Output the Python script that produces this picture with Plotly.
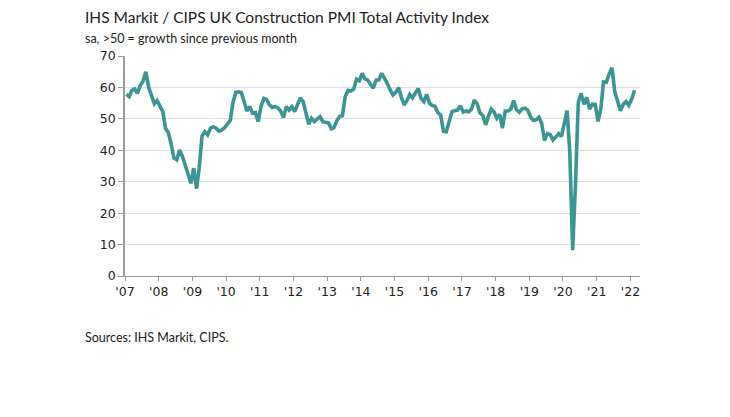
import pandas as pd
import plotly.graph_objects as go

# monthly index, Jan 2007 - Feb 2022 (plotted mid-month)
dates = pd.date_range("2007-01-01", "2022-02-01", freq="MS") + pd.Timedelta(days=14)

pmi_2007 = [57.8, 57.1, 59.0, 59.5, 58.1, 60.6, 62.0, 65.0, 60.0, 57.6, 54.8, 55.8]
pmi_2008 = [54.0, 52.3, 47.0, 45.6, 42.0, 37.5, 37.0, 40.1, 38.0, 35.0, 32.5, 29.5]
pmi_2009 = [34.3, 27.8, 34.3, 44.5, 45.9, 44.9, 47.0, 47.5, 47.0, 46.1, 46.5, 47.2]
pmi_2010 = [48.3, 49.5, 55.0, 58.4, 58.6, 58.4, 55.5, 52.5, 53.9, 51.8, 52.0, 49.1]
pmi_2011 = [54.0, 56.5, 56.2, 54.5, 53.6, 53.9, 53.5, 52.5, 50.4, 53.9, 52.8, 53.9]
pmi_2012 = [52.3, 54.5, 56.7, 55.5, 51.8, 48.3, 50.2, 49.1, 50.0, 50.7, 49.1, 49.0]
pmi_2013 = [48.7, 46.8, 47.2, 49.4, 50.8, 51.0, 57.0, 59.1, 58.9, 59.4, 62.6, 62.1]
pmi_2014 = [64.5, 62.7, 62.4, 61.0, 59.8, 62.3, 62.4, 64.5, 63.0, 61.2, 59.2, 57.6]
pmi_2015 = [58.5, 59.9, 57.0, 54.4, 55.8, 57.8, 56.7, 58.0, 59.7, 56.5, 55.5, 57.8]
pmi_2016 = [55.0, 54.2, 54.0, 52.0, 51.2, 46.0, 45.9, 49.2, 52.3, 52.6, 52.8, 54.2]
pmi_2017 = [52.2, 52.5, 52.2, 53.1, 56.0, 54.8, 51.9, 51.1, 48.1, 50.8, 53.1, 52.2]
pmi_2018 = [50.2, 51.4, 47.0, 52.5, 52.5, 53.1, 55.8, 52.9, 52.1, 53.2, 53.4, 52.8]
pmi_2019 = [50.6, 49.5, 49.7, 50.5, 48.6, 43.1, 45.3, 45.0, 43.3, 44.2, 45.3, 44.4]
pmi_2020 = [48.4, 52.6, 39.3, 8.2, 28.9, 55.3, 58.1, 54.6, 56.8, 53.1, 54.7, 54.6]
pmi_2021 = [49.2, 53.3, 61.7, 61.6, 64.2, 66.3, 58.7, 55.2, 52.6, 54.6, 55.5, 54.3]
pmi_2022 = [56.3, 59.1]

pmi = (pmi_2007 + pmi_2008 + pmi_2009 + pmi_2010 + pmi_2011 + pmi_2012 + pmi_2013
       + pmi_2014 + pmi_2015 + pmi_2016 + pmi_2017 + pmi_2018 + pmi_2019
       + pmi_2020 + pmi_2021 + pmi_2022)

years = list(range(2007, 2023))
year_ticks = [f"{y}-01-01" for y in years]
year_labels = [f"'{str(y)[2:]}" for y in years]

TEAL = "#3d9494"
AXIS = "#9a9a9a"
GRID = "#dedede"

fig = go.Figure(go.Scatter(
    x=dates, y=pmi, mode="lines",
    line=dict(color=TEAL, width=3.6),
    hoverinfo="x+y",
))

# page has an 8px body margin, so the plot box is shifted by that much
fig.update_layout(
    width=730, height=417,
    margin=dict(l=117, r=98, t=48, b=149),
    paper_bgcolor="white", plot_bgcolor="white",
    showlegend=False,
    font=dict(family="DejaVu Sans", size=12, color="#222"),
)

fig.update_xaxes(
    range=["2007-01-01", "2022-04-15"],
    tickvals=year_ticks, ticktext=year_labels,
    showline=True, linecolor=AXIS, linewidth=1,
    ticks="outside", ticklen=4, tickcolor=AXIS,
    showgrid=False, zeroline=False,
    tickfont=dict(family="DejaVu Sans", size=12.5, color="#222"),
)
fig.update_yaxes(
    range=[0, 70], dtick=10,
    showline=True, linecolor=AXIS, linewidth=1.5,
    ticks="outside", ticklen=5, tickcolor=AXIS,
    showgrid=True, gridcolor=GRID, gridwidth=1,
    zeroline=False,
    tickfont=dict(family="DejaVu Sans", size=12.5, color="#222"),
)

def px_x(px):
    return (px - 125) / 515

def px_y(py):
    return (276 - py) / 220

fig.add_annotation(
    text="IHS Markit / CIPS UK Construction PMI Total Activity Index",
    xref="paper", yref="paper", x=px_x(83), y=px_y(17),
    xanchor="left", yanchor="middle", showarrow=False,
    font=dict(family="Lato", size=15.5, color="#222"),
)
fig.add_annotation(
    text="sa, >50 = growth since previous month",
    xref="paper", yref="paper", x=px_x(83), y=px_y(39),
    xanchor="left", yanchor="middle", showarrow=False,
    font=dict(family="Lato", size=12.5, color="#222"),
)
fig.add_annotation(
    text="Sources: IHS Markit, CIPS.",
    xref="paper", yref="paper", x=px_x(83), y=px_y(337),
    xanchor="left", yanchor="middle", showarrow=False,
    font=dict(family="Lato", size=12.5, color="#222"),
)

fig.write_html("out.html")
